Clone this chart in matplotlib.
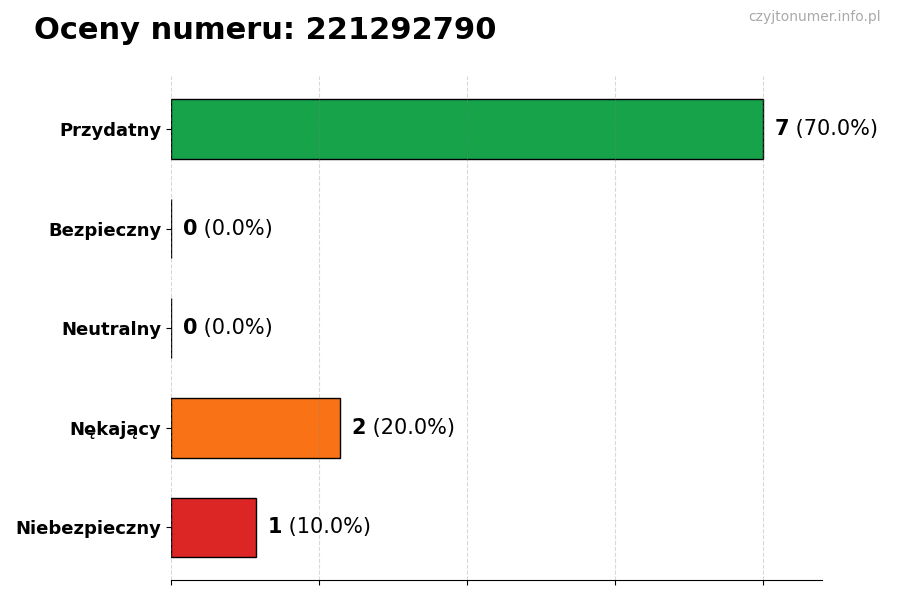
import matplotlib
matplotlib.use("Agg")
import matplotlib.pyplot as plt
import numpy as np

categories = ["Przydatny", "Bezpieczny", "Neutralny", "Nękający", "Niebezpieczny"]
counts = [7, 0, 0, 2, 1]
colors = ["#16a34a", "#9ca3af", "#60a5fa", "#f97316", "#dc2626"]
phone = "221292790"

total = sum(counts)
max_count = max(counts)

fig = plt.figure(figsize=(9, 6), dpi=100)
ax = fig.add_axes([0.19, 0.033, 0.723, 0.84])

y = np.arange(len(categories))
ax.barh(y, counts, height=0.6, color=colors, edgecolor="black", linewidth=1, zorder=2)
ax.invert_yaxis()
ax.set_yticks(y)
ax.set_yticklabels(categories, fontsize=13, fontweight="bold")
ax.set_xlim(0, max_count * 1.1)
ax.set_xticks(np.linspace(0, max_count, 5))
ax.set_xticklabels([])
ax.set_axisbelow(False)
# grid drawn over the bars, but faint
ax.grid(axis="x", linestyle="--", color="gray", alpha=0.3, linewidth=0.8, zorder=3)
for side in ("top", "right", "left"):
    ax.spines[side].set_visible(False)

fig.canvas.draw()
renderer = fig.canvas.get_renderer()
pad = max_count * 1.1 * 0.018
for yi, c in zip(y, counts):
    t1 = ax.text(c + pad, yi, str(c), fontsize=15, fontweight="bold", va="center", ha="left")
    bb = t1.get_window_extent(renderer)
    x2 = ax.transData.inverted().transform((bb.x1, 0))[0]
    ax.text(x2, yi, f" ({c / total * 100:.1f}%)", fontsize=15, va="center", ha="left")

fig.text(0.038, 0.949, f"Oceny numeru: {phone}", fontsize=22, fontweight="bold", va="center", ha="left")
fig.text(0.979, 0.971, "czyjtonumer.info.pl", fontsize=10, color="#aaaaaa", va="center", ha="right")

fig.savefig("out.png", dpi=100)
